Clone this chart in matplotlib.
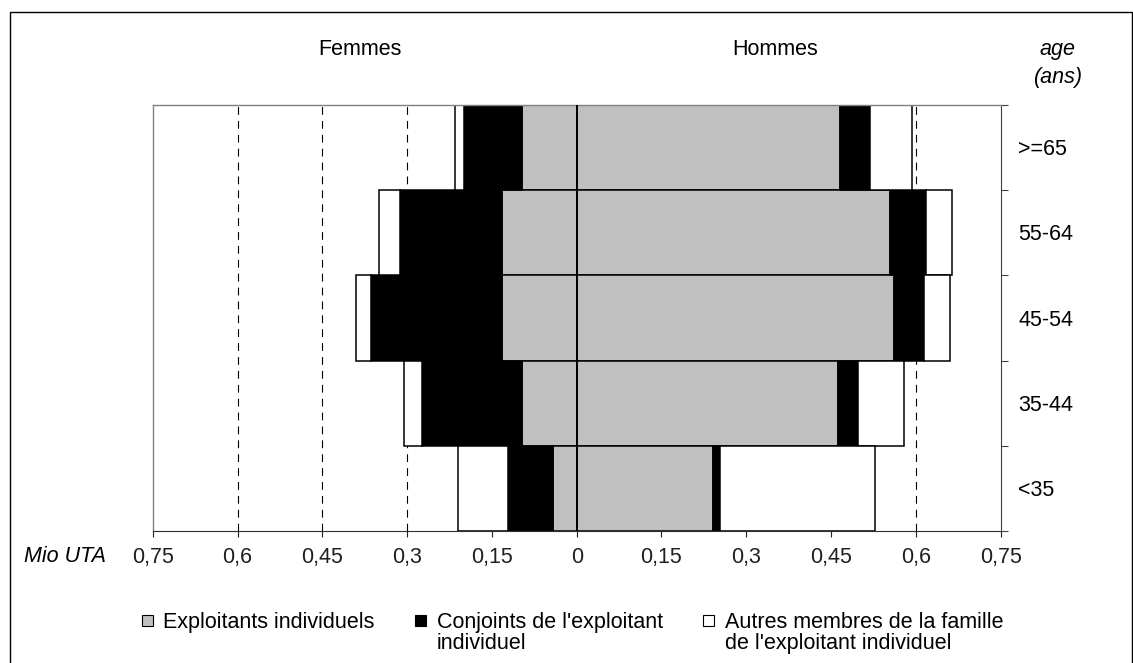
import numpy as np
import matplotlib.pyplot as plt
from matplotlib.patches import Rectangle

plt.rcParams['font.family'] = ['Liberation Sans', 'DejaVu Sans']

# age groups, top to bottom
ages = [">=65", "55-64", "45-54", "35-44", "<35"]

# Mio UTA
femmes_exploitants = [0.096, 0.132, 0.132, 0.096, 0.042]
femmes_conjoints = [0.104, 0.181, 0.232, 0.178, 0.080]
femmes_autres = [0.015, 0.036, 0.027, 0.031, 0.088]

hommes_exploitants = [0.466, 0.555, 0.561, 0.463, 0.241]
hommes_conjoints = [0.053, 0.063, 0.054, 0.034, 0.012]
hommes_autres = [0.075, 0.046, 0.046, 0.082, 0.275]

xticks = [-0.75, -0.6, -0.45, -0.3, -0.15, 0, 0.15, 0.3, 0.45, 0.6, 0.75]
xtick_labels = ["0,75", "0,6", "0,45", "0,3", "0,15", "0", "0,15", "0,3", "0,45", "0,6", "0,75"]

labels = ["Exploitants individuels",
          "Conjoints de l'exploitant\nindividuel",
          "Autres membres de la famille\nde l'exploitant individuel"]
colors = ["#c0c0c0", "#000000", "#ffffff"]

FS = 15.5
W, H = 1133, 663

fig = plt.figure(figsize=(W / 100, H / 100), dpi=100)
ax = fig.add_axes([0.1348, 0.1991, 0.7484, 0.6425])

y = np.arange(len(ages))
fem = [np.array(femmes_exploitants), np.array(femmes_conjoints), np.array(femmes_autres)]
hom = [np.array(hommes_exploitants), np.array(hommes_conjoints), np.array(hommes_autres)]

left_f = np.zeros(len(ages))
left_h = np.zeros(len(ages))
for vals_f, vals_h, c in zip(fem, hom, colors):
    ax.barh(y, -vals_f, left=-left_f, height=1.0, color=c, edgecolor="black", linewidth=1.1, zorder=2)
    ax.barh(y, vals_h, left=left_h, height=1.0, color=c, edgecolor="black", linewidth=1.1, zorder=2)
    left_f += vals_f
    left_h += vals_h

# dashed gridlines behind the bars, solid line at zero on top
for xv in xticks[1:-1]:
    if xv != 0:
        ax.axvline(xv, color="black", lw=0.8, ls=(0, (7, 5.5)), zorder=1)
ax.axvline(0, color="black", lw=1.4, zorder=3)

ax.set_xlim(-0.75, 0.75)
ax.set_ylim(len(ages) - 0.5, -0.5)
ax.set_xticks(xticks)
ax.set_xticklabels(xtick_labels, fontsize=FS)
ax.tick_params(axis="x", direction="out", length=4.3, width=0.8, pad=7.5, colors="#202020")

ax.yaxis.tick_right()
ax.set_yticks(np.arange(-0.5, len(ages), 1.0))
ax.set_yticklabels([])
ax.tick_params(axis="y", direction="out", length=5, width=0.8, colors="#404040")
for yi, a in zip(y, ages):
    ax.annotate(a, xy=(1.0, yi), xycoords=ax.get_yaxis_transform(),
                xytext=(12.5, -5.5), textcoords="offset points",
                ha="left", va="baseline", fontsize=FS)

for side in ["left", "top"]:
    ax.spines[side].set_color("#808080")
    ax.spines[side].set_linewidth(1.0)
ax.spines["right"].set_color("#404040")
ax.spines["bottom"].set_color("#303030")

fig.text(360 / W, 1 - 55 / H, "Femmes", ha="center", va="baseline", fontsize=FS)
fig.text(775 / W, 1 - 55 / H, "Hommes", ha="center", va="baseline", fontsize=FS)
fig.text(1058 / W, 1 - 55 / H, "age", ha="center", va="baseline", fontsize=FS, style="italic")
fig.text(1058 / W, 1 - 83 / H, "(ans)", ha="center", va="baseline", fontsize=FS, style="italic")
fig.text(65.5 / W, 1 - 562 / H, "Mio UTA", ha="center", va="baseline", fontsize=FS, style="italic")

# legend, drawn by hand to keep the square on the first line
leg_sq = [142, 415, 703]
leg_tx = [163, 437, 725]
for sx, tx, lab, c in zip(leg_sq, leg_tx, labels, colors):
    fig.patches.append(Rectangle((sx / W, 1 - 626 / H), 11 / W, 11 / H, transform=fig.transFigure,
                                 facecolor=c, edgecolor="black", linewidth=0.8))
    fig.text(tx / W, 1 - 612 / H, lab, ha="left", va="top", fontsize=FS, linespacing=1.0)

# outer frame
fig.patches.append(Rectangle((10 / W, -0.01), 1122 / W, 1 - 12 / H + 0.01, transform=fig.transFigure,
                             fill=False, edgecolor="black", linewidth=1.0))

fig.savefig("out.png", dpi=100)
